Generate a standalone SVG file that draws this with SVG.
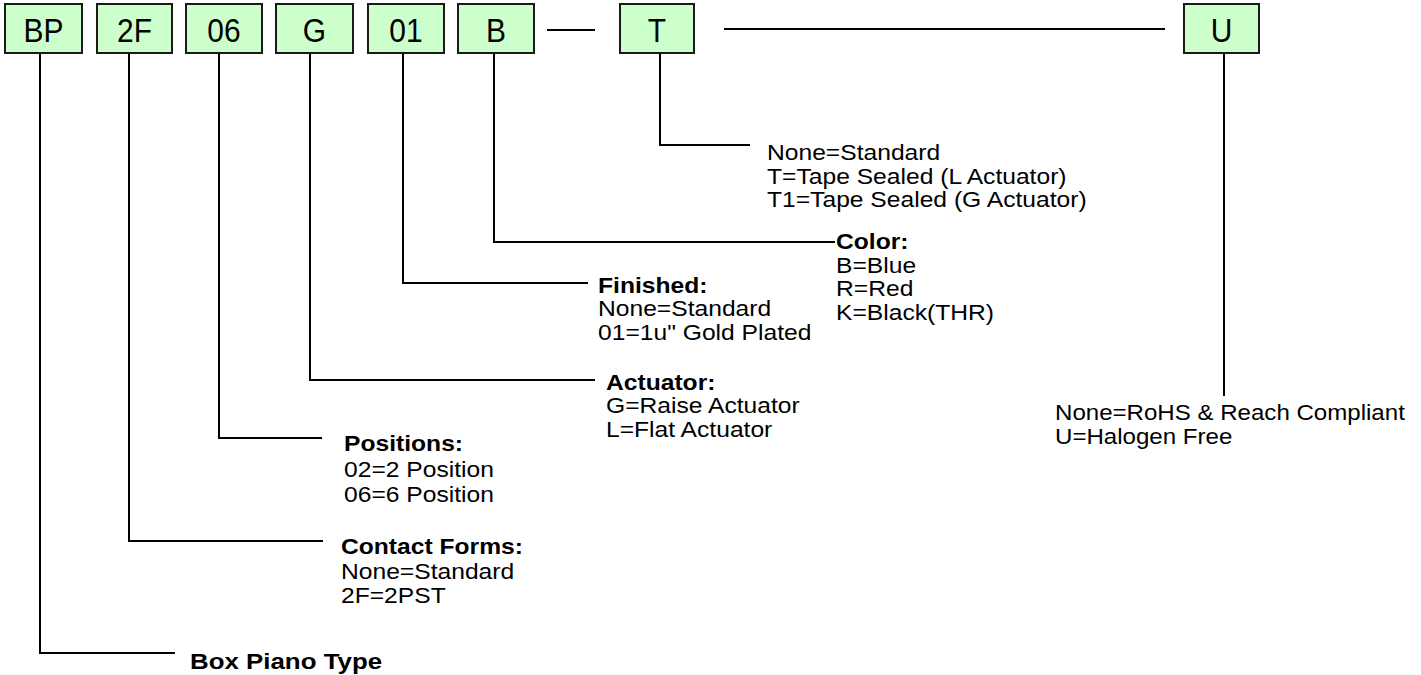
<svg xmlns="http://www.w3.org/2000/svg" width="1421" height="675" viewBox="0 0 1421 675">
<style>
.box{fill:#ccffcc;stroke:#1a1a1a;stroke-width:2}
.bt{font-family:"Liberation Sans",Arial,sans-serif;font-size:34px;text-anchor:middle;fill:#000}
.t{font-family:"Liberation Sans",Arial,sans-serif;font-size:22px;fill:#000}
.b{font-weight:bold}
.c{fill:none;stroke:#000;stroke-width:2}
</style>
<rect width="1421" height="675" fill="#fff"/>
<g id="connectors">
<path class="c" d="M40 53V653H175"/>
<path class="c" d="M129 53V541H323"/>
<path class="c" d="M219 53V438H322"/>
<path class="c" d="M310 53V380H595"/>
<path class="c" d="M403 53V283H588"/>
<path class="c" d="M494 53V242H835"/>
<path class="c" d="M660 53V145H750"/>
<path class="c" d="M1224 53V396"/>
<path class="c" d="M547 30H595"/>
<path class="c" d="M724 29H1165"/>
</g>
<g id="node-BP"><rect class="box" x="5" y="4" width="77" height="49"/><text class="bt" transform="translate(43.5 42) scale(0.88 1)">BP</text></g>
<g id="node-2F"><rect class="box" x="97" y="4" width="75" height="49"/><text class="bt" transform="translate(134.5 42) scale(0.88 1)">2F</text></g>
<g id="node-06"><rect class="box" x="186" y="4" width="76" height="49"/><text class="bt" transform="translate(224 42) scale(0.88 1)">06</text></g>
<g id="node-G"><rect class="box" x="276" y="4" width="77" height="49"/><text class="bt" transform="translate(314.5 42) scale(0.88 1)">G</text></g>
<g id="node-01"><rect class="box" x="368" y="4" width="76" height="49"/><text class="bt" transform="translate(406 42) scale(0.88 1)">01</text></g>
<g id="node-B"><rect class="box" x="458" y="4" width="76" height="49"/><text class="bt" transform="translate(496 42) scale(0.88 1)">B</text></g>
<g id="node-T"><rect class="box" x="620" y="4" width="74" height="49"/><text class="bt" transform="translate(657 42) scale(0.88 1)">T</text></g>
<g id="node-U"><rect class="box" x="1184" y="4" width="75" height="49"/><text class="bt" transform="translate(1221.5 42) scale(0.88 1)">U</text></g>
<g id="label-T" class="t" transform="translate(767 0) scale(1.12 1)"><text x="0" y="160">None=Standard</text><text x="0" y="184">T=Tape Sealed (L Actuator)</text><text x="0" y="207">T1=Tape Sealed (G Actuator)</text></g>
<g id="label-color" class="t" transform="translate(836 0) scale(1.12 1)"><text class="b" x="0" y="249">Color:</text><text x="0" y="273">B=Blue</text><text x="0" y="296">R=Red</text><text x="0" y="320">K=Black(THR)</text></g>
<g id="label-finished" class="t" transform="translate(598 0) scale(1.12 1)"><text class="b" x="0" y="293">Finished:</text><text x="0" y="316">None=Standard</text><text x="0" y="340">01=1u" Gold Plated</text></g>
<g id="label-actuator" class="t" transform="translate(606 0) scale(1.12 1)"><text class="b" x="0" y="390">Actuator:</text><text x="0" y="413">G=Raise Actuator</text><text x="0" y="437">L=Flat Actuator</text></g>
<g id="label-positions" class="t" transform="translate(344 0) scale(1.12 1)"><text class="b" x="0" y="451">Positions:</text><text x="0" y="477">02=2 Position</text><text x="0" y="502">06=6 Position</text></g>
<g id="label-contact" class="t" transform="translate(341 0) scale(1.12 1)"><text class="b" x="0" y="554">Contact Forms:</text><text x="0" y="579">None=Standard</text><text x="0" y="603">2F=2PST</text></g>
<g id="label-U" class="t" transform="translate(1055 0) scale(1.095 1)"><text x="0" y="420">None=RoHS &amp; Reach Compliant</text><text x="0" y="444">U=Halogen Free</text></g>
<g id="label-BP" class="t b" transform="translate(190 0) scale(1.15 1)"><text x="0" y="669" style="font-size:22.5px">Box Piano Type</text></g>
</svg>
